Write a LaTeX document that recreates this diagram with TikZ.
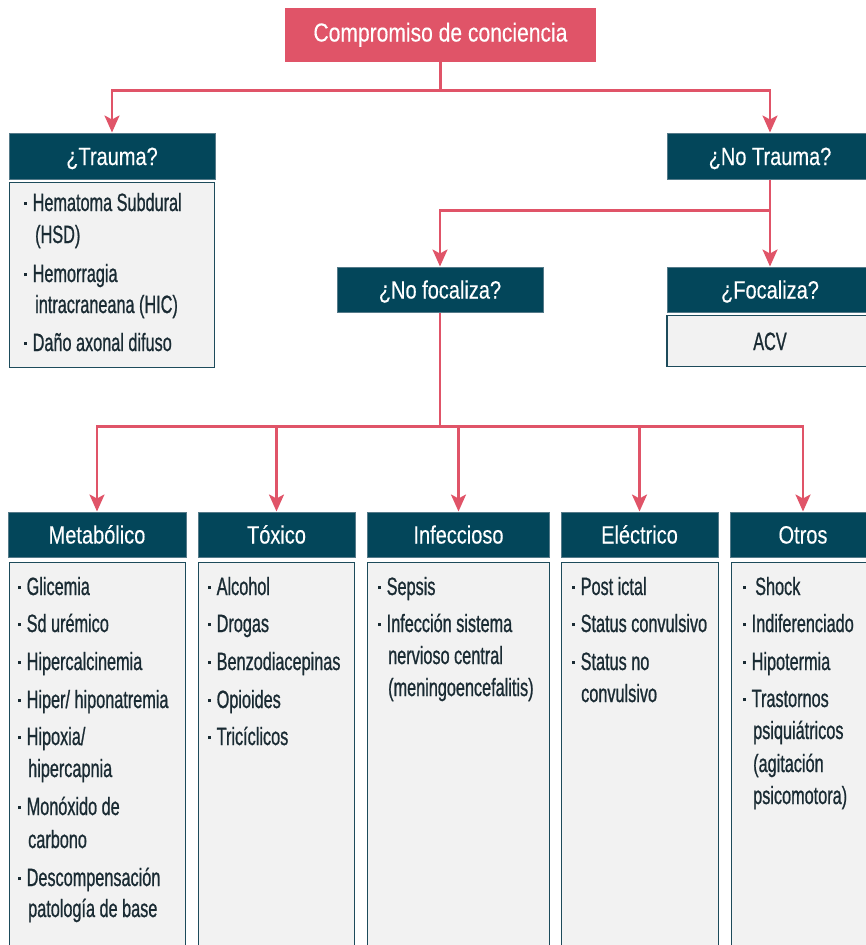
\documentclass[tikz,border=0pt]{standalone}
\usepackage{fontspec}
\setmainfont{Liberation Sans}
\newfontfamily\bodyf[FakeStretch=0.65,FakeBold=0.8]{Liberation Sans}
\newfontfamily\hdrf[FakeStretch=0.8,FakeBold=0.3]{Liberation Sans}
\newfontfamily\titf[FakeStretch=0.81,FakeBold=0.3]{Liberation Sans}
\usetikzlibrary{arrows.meta}
\definecolor{redc}{HTML}{E05468}
\definecolor{hdrc}{HTML}{03465A}
\definecolor{boxfill}{HTML}{F2F2F2}
\definecolor{boxline}{HTML}{1D4B5B}
\definecolor{hdrline}{HTML}{557A89}
\definecolor{txt}{HTML}{1A2B33}
\newcommand\bul{\rule[6pt]{3pt}{3pt}\kern5.5pt}
\begin{document}
\begin{tikzpicture}[x=1pt,y=-1pt,
  hdr/.style={draw=hdrline, line width=1pt, fill=hdrc, text=white,
    font=\hdrf\fontsize{25}{30}\selectfont, inner sep=0pt,
    text height=18pt, text depth=0pt, minimum height=45pt},
  titlebox/.style={fill=redc, text=white, font=\titf\fontsize{26}{31}\selectfont,
    inner sep=0pt, text height=19pt, text depth=6pt, minimum width=311pt, minimum height=54pt},
  cbox/.style={draw=boxline, line width=1.3pt, fill=boxfill, inner sep=0pt, anchor=north west},
  acvbox/.style={draw=boxline, line width=1.3pt, fill=boxfill, inner sep=0pt, text=txt,
    font=\bodyf\fontsize{25}{30}\selectfont, text height=18pt, text depth=0pt,
    minimum width=206pt, minimum height=51pt},
  itm/.style={anchor=base west, inner sep=0pt, text=txt, font=\bodyf\fontsize{25}{30}\selectfont},
  con/.style={draw=redc, line width=2.6pt, -{Stealth[length=17pt,width=15pt,inset=4pt]}},
  conl/.style={draw=redc, line width=2.6pt}
]
\useasboundingbox (0,0) rectangle (866,945);
\clip (0,0) rectangle (866,945);
\fill[white] (0,0) rectangle (866,945);

% title
\node[titlebox] (title) at (440.5,35) {Compromiso de conciencia};

% level 1
\node[hdr, minimum width=206pt, minimum height=46pt] (trauma) at (112,156) {¿Trauma?};
\node[hdr, minimum width=206pt, minimum height=46pt] (notrauma) at (770,156) {¿No Trauma?};
\node[cbox, minimum width=205pt, minimum height=185pt] (trbox) at (9,182) {};

% level 2
\node[hdr, minimum width=206pt] (nofocal) at (440,289.5) {¿No focaliza?};
\node[hdr, minimum width=206pt] (focal) at (770,289.5) {¿Focaliza?};
\node[acvbox] (acv) at (770,341) {ACV};

% level 3 headers
\node[hdr, minimum width=178pt] (met) at (97,534.5) {Metabólico};
\node[hdr, minimum width=157pt] (tox) at (276.5,534.5) {Tóxico};
\node[hdr, minimum width=182pt] (inf) at (458.5,534.5) {Infeccioso};
\node[hdr, minimum width=157pt] (ele) at (639.5,534.5) {Eléctrico};
\node[hdr, minimum width=146pt] (otr) at (803,534.5) {Otros};

% content boxes
\node[cbox, minimum width=176pt, minimum height=400pt] (metbox) at (9,562) {};
\node[cbox, minimum width=156pt, minimum height=400pt] (toxbox) at (198,562) {};
\node[cbox, minimum width=182pt, minimum height=400pt] (infbox) at (367,562) {};
\node[cbox, minimum width=157pt, minimum height=400pt] (elebox) at (561,562) {};
\node[cbox, minimum width=150pt, minimum height=400pt] (otrbox) at (731,562) {};

% connectors
\coordinate (j1) at ([yshift=-28pt]title.south);
\draw[conl] (title.south) -- (j1);
\draw[con] (j1) -| (trauma.north);
\draw[con] (j1) -| (notrauma.north);

\coordinate (j2) at ([yshift=-31pt]notrauma.south);
\draw[con] (notrauma.south) -- (focal.north);
\draw[con] (j2) -| (nofocal.north);

\coordinate (j3) at ([yshift=-114pt]nofocal.south);
\draw[conl] (nofocal.south) -- (j3);
\draw[con] (j3) -| (met.north);
\draw[con] (j3) -| (tox.north);
\draw[con] (j3) -| (inf.north);
\draw[con] (j3) -| (ele.north);
\draw[con] (j3) -| (otr.north);

% trauma items
\node[itm] (t1) at (24,211) {\bul Hematoma Subdural};
\node[itm] (t1b) at (35,243) {(HSD)};
\node[itm] (t2) at (24,282) {\bul Hemorragia};
\node[itm] (t2b) at (35,313) {intracraneana (HIC)};
\node[itm] (t3) at (24,351) {\bul Daño axonal difuso};

% metabolico
\node[itm] (m1) at (18,595) {\bul Glicemia};
\node[itm] (m2) at (18,632) {\bul Sd urémico};
\node[itm] (m3) at (18,670) {\bul Hipercalcinemia};
\node[itm] (m4) at (18,708) {\bul Hiper/ hiponatremia};
\node[itm] (m5) at (18,745) {\bul Hipoxia/};
\node[itm] (m5b) at (28,777) {hipercapnia};
\node[itm] (m6) at (18,815) {\bul Monóxido de};
\node[itm] (m6b) at (28,848) {carbono};
\node[itm] (m7) at (18,886) {\bul Descompensación};
\node[itm] (m7b) at (28,917) {patología de base};

% toxico
\node[itm] (x1) at (208,595) {\bul Alcohol};
\node[itm] (x2) at (208,632) {\bul Drogas};
\node[itm] (x3) at (208,670) {\bul Benzodiacepinas};
\node[itm] (x4) at (208,708) {\bul Opioides};
\node[itm] (x5) at (208,745) {\bul Tricíclicos};

% infeccioso
\node[itm] (i1) at (378,595) {\bul Sepsis};
\node[itm] (i2) at (378,632) {\bul Infección sistema};
\node[itm] (i2b) at (388,664) {nervioso central};
\node[itm] (i2c) at (388,696) {(meningoencefalitis)};

% electrico
\node[itm] (e1) at (572,595) {\bul Post ictal};
\node[itm] (e2) at (572,632) {\bul Status convulsivo};
\node[itm] (e3) at (572,670) {\bul Status no};
\node[itm] (e3b) at (581,702) {convulsivo};

% otros
\node[itm] (o1) at (743,595) {\rule[6pt]{3pt}{3pt}\kern9pt Shock};
\node[itm] (o2) at (743,632) {\bul Indiferenciado};
\node[itm] (o3) at (743,670) {\bul Hipotermia};
\node[itm] (o4) at (743,707) {\bul Trastornos};
\node[itm] (o4b) at (753,739) {psiquiátricos};
\node[itm] (o4c) at (753,772) {(agitación};
\node[itm] (o4d) at (753,804) {psicomotora)};
\end{tikzpicture}
\end{document}
